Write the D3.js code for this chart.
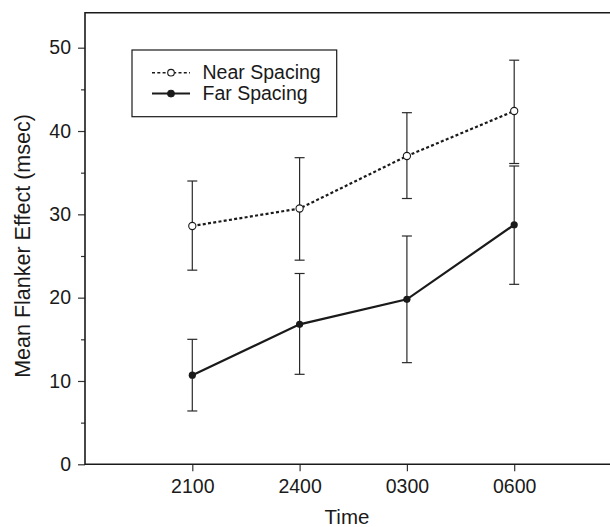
<!DOCTYPE html>
<html>
<head>
<meta charset="utf-8">
<script src="https://cdn.jsdelivr.net/npm/d3@7"></script>
<style>
  body { margin: 0; background: #fff; }
  svg { display: block; font-family: "Liberation Sans", Arial, sans-serif; }
</style>
</head>
<body>
<svg id="chart" width="610" height="527"></svg>
<script>
const TIMES = ["2100", "2400", "0300", "0600"];
const NEAR_MEAN = [28.6, 30.7, 37.0, 42.4];
const NEAR_UPPER = [34.0, 36.8, 42.2, 48.5];
const NEAR_LOWER = [23.3, 24.5, 31.9, 36.1];
const FAR_MEAN = [10.7, 16.8, 19.8, 28.75];
const FAR_UPPER = [15.0, 22.9, 27.4, 35.8];
const FAR_LOWER = [6.4, 10.8, 12.2, 21.6];
const Y_TICKS = [0, 10, 20, 30, 40, 50];
const Y_MINOR = [5, 15, 25, 35, 45];

const LEFT = 85, RIGHT = 621.5, TOP = 12.7, BOTTOM = 464.3;
const INK = "#1a1a1a";
const TICK_FONT = "19.5px";

const svg = d3.select("#chart");

const x = d3.scaleLinear().domain([0, 5]).range([LEFT, RIGHT]);
const y = d3.scaleLinear().domain([0, 54.2]).range([BOTTOM, TOP]);

function series(mean, upper, lower) {
    return mean.map((m, i) => ({ i: i + 1, m: m, hi: upper[i], lo: lower[i] }));
}
const near = series(NEAR_MEAN, NEAR_UPPER, NEAR_LOWER);
const far = series(FAR_MEAN, FAR_UPPER, FAR_LOWER);

// axes
const yAxis = svg.append("g")
    .attr("transform", `translate(${LEFT},0)`)
    .call(d3.axisLeft(y).tickValues(Y_TICKS).tickSize(7).tickPadding(7).tickFormat(d3.format("d")));
svg.append("g")
    .attr("transform", `translate(${LEFT},0)`)
    .call(d3.axisLeft(y).tickValues(Y_MINOR).tickSize(4).tickFormat(""))
    .call(g => g.select(".domain").remove())
    .selectAll(".tick line").attr("stroke", "#333").attr("stroke-width", 1.2);

const xAxis = svg.append("g")
    .attr("transform", `translate(0,${BOTTOM})`)
    .call(d3.axisBottom(x).tickValues([1, 2, 3, 4]).tickSize(7).tickPadding(8)
        .tickFormat(d => TIMES[d - 1]));

[yAxis, xAxis].forEach(g => {
    g.select(".domain").remove();
    g.selectAll(".tick line").attr("stroke", "#333").attr("stroke-width", 1.2);
    g.selectAll(".tick text").attr("fill", INK).style("font-size", TICK_FONT)
        .style("font-family", "'Liberation Sans', Arial, sans-serif");
});

// frame: left, bottom, top
svg.append("path")
    .attr("d", `M${RIGHT},${TOP}H${LEFT}V${BOTTOM}H${RIGHT}`)
    .attr("fill", "none")
    .attr("stroke", INK)
    .attr("stroke-width", 1.6);

// axis titles
svg.append("text")
    .attr("transform", `translate(30,246) rotate(-90)`)
    .attr("text-anchor", "middle")
    .attr("fill", INK)
    .style("font-size", "21.5px")
    .text("Mean Flanker Effect (msec)");

svg.append("text")
    .attr("x", 347)
    .attr("y", 524)
    .attr("text-anchor", "middle")
    .attr("fill", INK)
    .style("font-size", "20.5px")
    .text("Time");

// error bars
function errorBars(data) {
    const g = svg.append("g").attr("stroke", "#2a2a2a").attr("stroke-width", 1.2);
    data.forEach(d => {
        g.append("line").attr("x1", x(d.i)).attr("x2", x(d.i)).attr("y1", y(d.lo)).attr("y2", y(d.hi));
        [d.lo, d.hi].forEach(v => g.append("line")
            .attr("x1", x(d.i) - 5).attr("x2", x(d.i) + 5)
            .attr("y1", y(v)).attr("y2", y(v)));
    });
}
errorBars(near);
errorBars(far);

const line = d3.line().x(d => x(d.i)).y(d => y(d.m));

svg.append("path")
    .datum(near)
    .attr("d", line)
    .attr("fill", "none")
    .attr("stroke", INK)
    .attr("stroke-width", 2.2)
    .attr("stroke-dasharray", "3,2.3");

svg.append("path")
    .datum(far)
    .attr("d", line)
    .attr("fill", "none")
    .attr("stroke", INK)
    .attr("stroke-width", 2.2);

svg.selectAll(".near-pt").data(near).enter().append("circle")
    .attr("cx", d => x(d.i)).attr("cy", d => y(d.m)).attr("r", 3.6)
    .attr("fill", "#fff").attr("stroke", INK).attr("stroke-width", 1.1);

svg.selectAll(".far-pt").data(far).enter().append("circle")
    .attr("cx", d => x(d.i)).attr("cy", d => y(d.m)).attr("r", 3.6)
    .attr("fill", INK);

// legend
const legend = svg.append("g");
legend.append("rect")
    .attr("x", 132).attr("y", 50).attr("width", 204.7).attr("height", 66.7)
    .attr("fill", "#fff").attr("stroke", INK).attr("stroke-width", 1.2);

const LEGEND_ROWS = [
    { name: "Near Spacing", y: 72.7, dash: "3,2.3", fill: "#fff" },
    { name: "Far Spacing", y: 93.6, dash: null, fill: INK }
];
LEGEND_ROWS.forEach(r => {
    legend.append("line")
        .attr("x1", 152).attr("x2", 190).attr("y1", r.y).attr("y2", r.y)
        .attr("stroke", INK).attr("stroke-width", r.dash ? 1.4 : 2)
        .attr("stroke-dasharray", r.dash);
    legend.append("circle")
        .attr("cx", 171).attr("cy", r.y).attr("r", 3.3)
        .attr("fill", r.fill).attr("stroke", INK).attr("stroke-width", 1.1);
    legend.append("text")
        .attr("x", 202.5).attr("y", r.y + 6.5)
        .attr("fill", INK)
        .style("font-size", TICK_FONT)
        .text(r.name);
});
</script>
</body>
</html>
